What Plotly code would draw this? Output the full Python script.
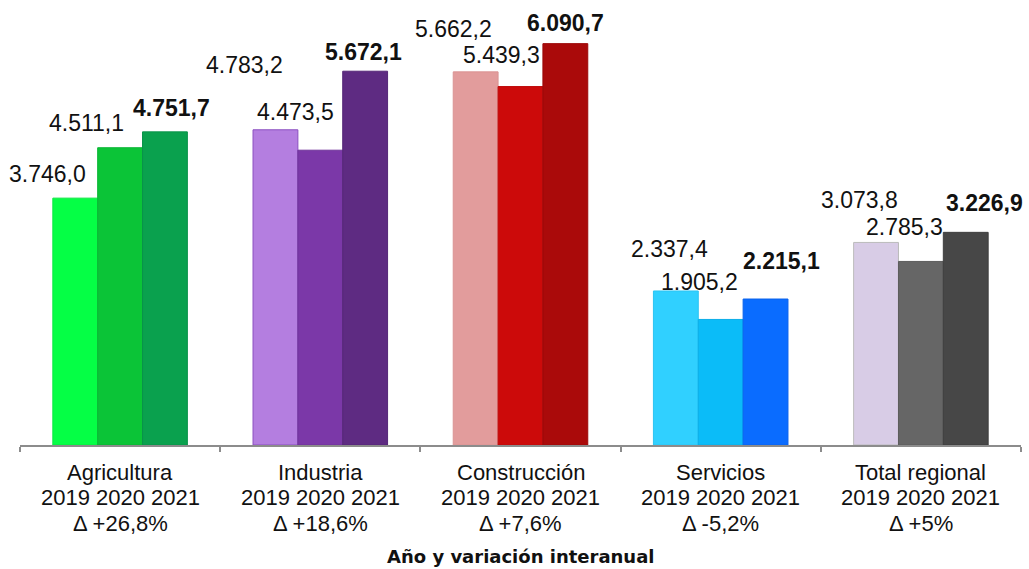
import plotly.graph_objects as go

# ---- data ----
categories = ["Agricultura", "Industria", "Construcción", "Servicios", "Total regional"]
years = ["2019", "2020", "2021"]
values_2019 = [3746.0, 4783.2, 5662.2, 2337.4, 3073.8]
values_2020 = [4511.1, 4473.5, 5439.3, 1905.2, 2785.3]
values_2021 = [4751.7, 5672.1, 6090.7, 2215.1, 3226.9]
variation = ["+26,8%", "+18,6%", "+7,6%", "-5,2%", "+5%"]
axis_title = "Año y variación interanual"

# ---- styles ----
colors_2019 = ["#05FF45", "#B47EE0", "#E29C9C", "#30D0FF", "#D8CCE6"]
colors_2020 = ["#0BC437", "#7B38A8", "#CC0A0A", "#0BBCF8", "#666666"]
colors_2021 = ["#0AA14E", "#5E2B82", "#AA0A0A", "#0A6CFF", "#474747"]
border_2019 = ["#0BE840", "#8B4FC0", "#DA9494", "#2CC4F2", "#BBBBBB"]
border_2020 = ["#0AB534", "#70339A", "#BE0A0A", "#0AAEE8", "#5C5C5C"]
border_2021 = ["#09934A", "#552778", "#9C0909", "#0A62EC", "#3F3F3F"]

# label offsets in px (dx from bar centre, dy above bar top)
label_dx = [[-28, -34, 7], [-31, -25, -2], [-22, -19, 0], [-6, -21, 16], [-17, -16, 19]]
label_dy = [[24, 25, 24], [65, 38, 19], [43, 32, 21], [42, 37, 38], [42, 34, 29]]

W, H = 1029, 569
ML, MR, MT, MB = 20, 8, 10, 124
BARGAP = 0.328
FONT = "Liberation Sans, Arial, sans-serif"


def fmt(v):
    s = f"{v:,.1f}"
    return s.replace(",", "X").replace(".", ",").replace("X", ".")


series = [values_2019, values_2020, values_2021]
fills = [colors_2019, colors_2020, colors_2021]
borders = [border_2019, border_2020, border_2021]

fig = go.Figure()
for k, yr in enumerate(years):
    fig.add_trace(go.Bar(
        x=categories, y=series[k], name=yr,
        marker=dict(color=fills[k], line=dict(color=borders[k], width=1)),
        hoverinfo="x+y",
    ))

plot_w = W - ML - MR
cat_w = plot_w / len(categories)
bar_w = cat_w * (1 - BARGAP) / 3

annotations = []
for i, cat in enumerate(categories):
    for k in range(3):
        v = series[k][i]
        txt = fmt(v)
        if k == 2:
            txt = f"<b>{txt}</b>"
        annotations.append(dict(
            x=cat, y=v, xref="x", yref="y", text=txt, showarrow=False,
            xanchor="center", yanchor="middle",
            xshift=(k - 1) * bar_w + label_dx[i][k], yshift=label_dy[i][k],
            font=dict(family=FONT, size=23, color="#111111"),
        ))
    lines = [cat, " ".join(years), f"Δ {variation[i]}"]
    for j, (ln, sh) in enumerate(zip(lines, [-27, -52, -78])):
        annotations.append(dict(
            x=cat, y=0, xref="x", yref="paper", text=ln, showarrow=False,
            xanchor="center", yanchor="middle", yshift=sh,
            font=dict(family=FONT, size=22, color="#111111"),
        ))

annotations.append(dict(
    x=0.5, y=0, xref="paper", yref="paper", text=f"<b>{axis_title}</b>",
    showarrow=False, xanchor="center", yanchor="middle", yshift=-111,
    font=dict(family="DejaVu Sans, Verdana, sans-serif", size=18, color="#111111"),
))

ymax = 6601
fig.update_layout(
    width=W, height=H,
    margin=dict(l=ML, r=MR, t=MT, b=MB),
    barmode="group", bargap=BARGAP, bargroupgap=0,
    plot_bgcolor="white", paper_bgcolor="white",
    showlegend=False,
    annotations=annotations,
    xaxis=dict(
        range=[-0.5, len(categories) - 0.5],
        showticklabels=False, showline=True, linecolor="#8C8C8C", linewidth=1.5,
        ticks="outside", tickson="boundaries", ticklen=5, tickcolor="#8C8C8C",
        tickwidth=1.5, showgrid=False, zeroline=False,
    ),
    yaxis=dict(
        range=[0, ymax], visible=False, showgrid=False, zeroline=False,
    ),
)

fig.write_html(
    "out.html",
    config={"displayModeBar": False},
    post_script="document.body.style.margin='0';document.body.style.overflow='hidden';",
)
